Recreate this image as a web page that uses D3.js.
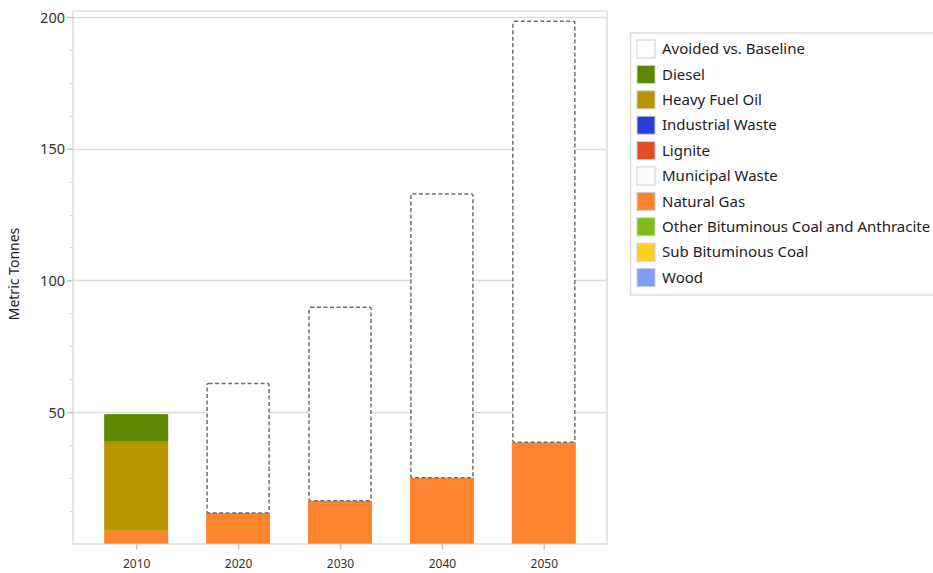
<!DOCTYPE html>
<html>
<head>
<meta charset="utf-8">
<script src="https://cdn.jsdelivr.net/npm/d3@7"></script>
<style>
  body { margin: 0; background: #fff; }
  text { font-family: "Noto Sans", "Open Sans", sans-serif; }
</style>
</head>
<body>
<svg id="chart" width="933" height="573"></svg>
<script>
const years = ["2010", "2020", "2030", "2040", "2050"];
const naturalGas = [4.9, 11.7, 16.3, 25.0, 38.5];
const heavyFuelOil = [33.8, 0, 0, 0, 0];
const diesel = [10.5, 0, 0, 0, 0];
const avoided = [0, 49.1, 73.5, 107.8, 159.9];
const yTicks = [50, 100, 150, 200];
const legendNames = ["Avoided vs. Baseline", "Diesel", "Heavy Fuel Oil", "Industrial Waste", "Lignite",
  "Municipal Waste", "Natural Gas", "Other Bituminous Coal and Anthracite", "Sub Bituminous Coal", "Wood"];
const legendColors = ["#ffffff", "#5a8800", "#b89400", "#2b3bd6", "#e04e23",
  "#fcfcfc", "#fd8530", "#7dbe12", "#fdd023", "#7f9cfa"];

const svg = d3.select("#chart");
const pLeft = 73, pRight = 607, pTop = 11, pBottom = 544;

const x = d3.scalePoint().domain(years).range([pLeft, pRight]).padding(0.62);
const y = d3.scaleLinear().domain([0, 200]).range([543.7, 17]);
const barW = 64;

// frame
svg.append("rect").attr("x", pLeft).attr("y", pTop).attr("width", pRight - pLeft).attr("height", pBottom - pTop)
  .attr("fill", "none").attr("stroke", "#dcdcdc").attr("stroke-width", 1.5);

// gridlines
svg.append("g").selectAll("line").data(yTicks).join("line")
  .attr("x1", pLeft).attr("x2", pRight)
  .attr("y1", d => Math.round(y(d)) + 0.5).attr("y2", d => Math.round(y(d)) + 0.5)
  .attr("stroke", "#dcdcdc").attr("stroke-width", 1.5);

// minor ticks
const minor = d3.range(12.5, 200, 12.5).filter(v => v % 50 !== 0);
svg.append("g").selectAll("line").data(minor).join("line")
  .attr("x1", pLeft - 3).attr("x2", pLeft)
  .attr("y1", d => Math.round(y(d)) + 0.5).attr("y2", d => Math.round(y(d)) + 0.5)
  .attr("stroke", "#d8d8d8").attr("stroke-width", 1);

// y axis
const yAxis = d3.axisLeft(y).tickValues(yTicks).tickSize(6).tickPadding(2);
const gy = svg.append("g").attr("transform", `translate(${pLeft},0)`).call(yAxis);
gy.select(".domain").remove();
gy.selectAll(".tick line").attr("stroke", "#c8c8c8").attr("stroke-width", 1.5);
gy.selectAll(".tick text").attr("fill", "#333").style("font-size", "14.5px").attr("dy", "0.35em");

// x axis
const xAxis = d3.axisBottom(x).tickSize(6).tickPadding(9);
const gx = svg.append("g").attr("transform", `translate(0,${pBottom})`).call(xAxis);
gx.select(".domain").remove();
gx.selectAll(".tick line").attr("stroke", "#c8c8c8").attr("stroke-width", 1.5);
gx.selectAll(".tick text").attr("fill", "#333").style("font-size", "12px");

// stacked bars
const stackData = years.map((yr, i) => ({ year: yr, ng: naturalGas[i], hfo: heavyFuelOil[i], diesel: diesel[i], avoided: avoided[i] }));
const series = d3.stack().keys(["ng", "hfo", "diesel"])(stackData);
const colorOf = { ng: "#fd8530", hfo: "#b89400", diesel: "#5a8800" };

const gBars = svg.append("g");
series.forEach(s => {
  gBars.selectAll(null).data(s.filter(d => d[1] - d[0] > 0)).join("rect")
    .attr("x", d => x(d.data.year) - barW / 2)
    .attr("width", barW)
    .attr("y", d => y(d[1]))
    .attr("height", d => y(d[0]) - y(d[1]))
    .attr("fill", colorOf[s.key]);
});

// avoided dashed boxes
svg.append("g").selectAll("rect").data(stackData.filter(d => d.avoided > 0)).join("rect")
  .attr("x", d => x(d.year) - barW / 2 + 1)
  .attr("width", barW - 2)
  .attr("y", d => y(d.ng + d.hfo + d.diesel + d.avoided))
  .attr("height", d => y(d.ng + d.hfo + d.diesel) - y(d.ng + d.hfo + d.diesel + d.avoided))
  .attr("rx", 1.5)
  .attr("fill", "#fff")
  .attr("stroke", "#6e6e6e")
  .attr("stroke-width", 1.5)
  .attr("stroke-dasharray", "4,2.5");

// y label
svg.append("text")
  .attr("transform", "translate(19,274) rotate(-90)")
  .attr("text-anchor", "middle")
  .attr("fill", "#222")
  .style("font-size", "14px")
  .text("Metric Tonnes");

// legend
const lg = svg.append("g");
lg.append("rect").attr("x", 630.5).attr("y", 33).attr("width", 320).attr("height", 262)
  .attr("fill", "#fff").attr("stroke", "#dcdcdc").attr("stroke-width", 1.5);
const item = lg.selectAll("g.item").data(legendNames).join("g")
  .attr("class", "item")
  .attr("transform", (d, i) => `translate(637,${40 + i * 25.4})`);
item.append("rect").attr("width", 18).attr("height", 18)
  .attr("fill", (d, i) => legendColors[i])
  .attr("stroke", "#cfcfcf").attr("stroke-width", 1);
item.append("text").attr("x", 25).attr("y", 9).attr("dy", "0.35em")
  .attr("fill", "#222").style("font-size", "15px")
  .text(d => d);
</script>
</body>
</html>
